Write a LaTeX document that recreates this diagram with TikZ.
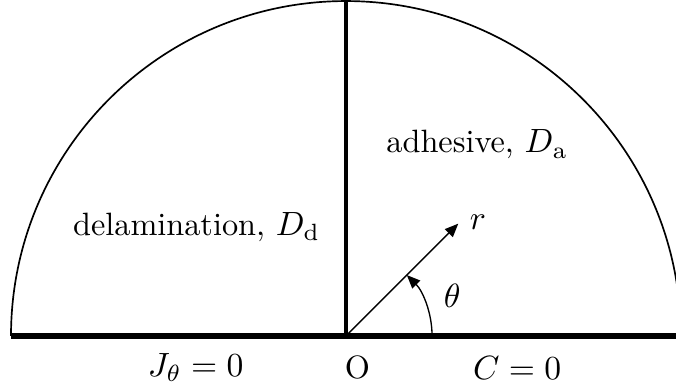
\documentclass[tikz,border=0pt]{standalone}
\usetikzlibrary{arrows.meta}
\tikzset{
  every node/.style={font=\fontsize{9.6}{11.5}\selectfont},
  wall/.style={line width=1.5pt},
  divide/.style={line width=1.2pt},
  vec/.style={line width=0.4pt,-{Triangle[length=4pt,width=3.3pt]}}
}

\begin{document}
\begin{tikzpicture}
    \useasboundingbox (-3.615,-0.554) rectangle (3.449,3.511);
    \clip (-3.615,-0.554) rectangle (3.449,3.511);
    \coordinate (O) at (0,0);
    \coordinate (top) at (0,3.5);
    \coordinate (left) at (-3.5,0);
    \coordinate (right) at (3.6,0);
    \coordinate (rtip) at (45:1.66);
    \draw[line width=0.5pt] (3.5,0) arc (0:180:3.5);
    \draw[wall] (left) -- (right);
    \draw[divide] (O) -- (top);
    \draw[vec] (O) -- (rtip);
    \draw[vec] (0.9,0) arc (0:45:0.9);
    \node (rlab) at (1.38,1.19) {$r$};
    \node (thlab) at (1.11,0.42) {$\theta$};
    \node (adh) at (1.37,2.0) {adhesive, $D_\mathrm{a}$};
    \node (del) at (-1.56,1.14) {delamination, $D_\mathrm{d}$};
    \node (jbc) at (-1.57,-0.33) {$J_\theta = 0$};
    \node (olab) at (0.12,-0.33) {O};
    \node (cbc) at (1.79,-0.33) {$C = 0$};
\end{tikzpicture}
\end{document}
